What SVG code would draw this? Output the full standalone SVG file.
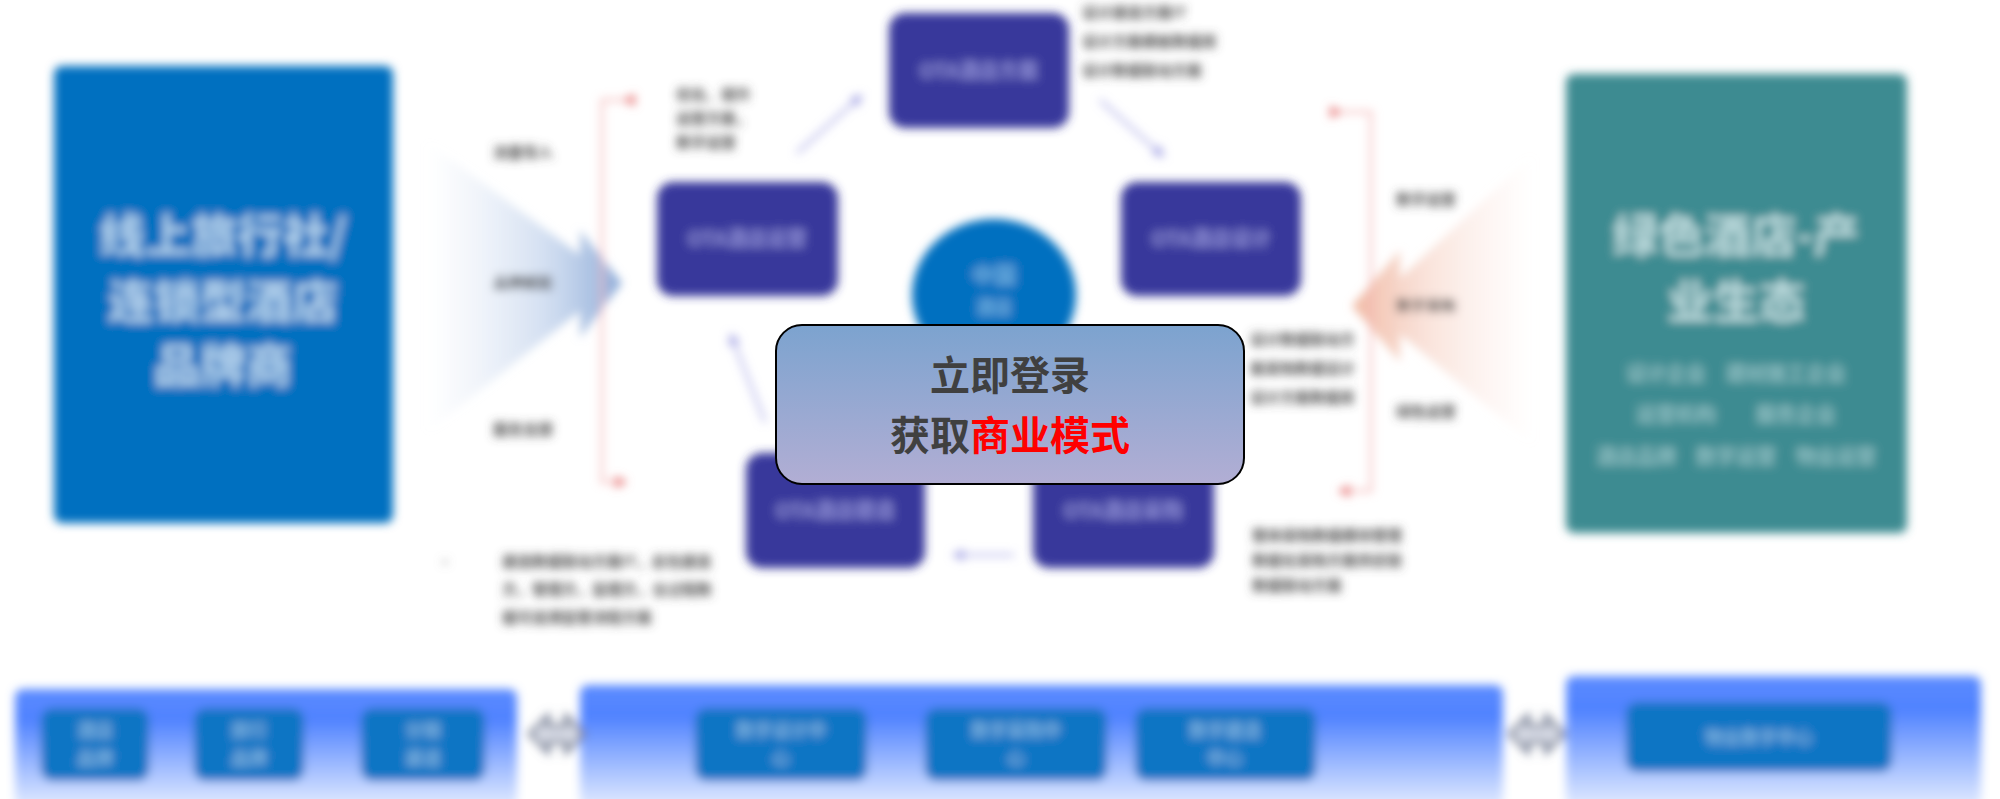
<svg xmlns="http://www.w3.org/2000/svg" width="2000" height="799" viewBox="0 0 2000 799">
<defs>
<style>
.cjk{font-family:"Noto Sans CJK SC","Liberation Sans",sans-serif}
.node{fill:#37389B}
.nodeText{fill:#8E8ED6;font-size:20px;font-weight:bold;text-anchor:middle}
.small{fill:#505050;font-size:15px;font-weight:bold}
.lbl{fill:#505050;font-size:15px;font-weight:bold;text-anchor:middle}
.btn{fill:#0E74C4}
.btnText{fill:#7FB4E0;font-size:18px;font-weight:bold;text-anchor:middle}
.conn{stroke:#A9A9E6;stroke-width:2.5;fill:none}
.brk{stroke:#F4B2B2;stroke-width:2.5;fill:none}
.ovlText{font-family:"Noto Sans CJK SC",sans-serif;font-size:40px;font-weight:bold;fill:#404040;text-anchor:middle}
</style>
<filter id="blur" x="-5%" y="-5%" width="110%" height="110%"><feGaussianBlur stdDeviation="5"/></filter>
<linearGradient id="fanL" x1="0" y1="0" x2="1" y2="0"><stop offset="0" stop-color="#DCE6F4" stop-opacity="0"/><stop offset="0.6" stop-color="#C2D3EC" stop-opacity="0.7"/><stop offset="1" stop-color="#8DABD8"/></linearGradient>
<linearGradient id="fanR" x1="1" y1="0" x2="0" y2="0"><stop offset="0" stop-color="#FBE6DE" stop-opacity="0"/><stop offset="0.6" stop-color="#F7D6CA" stop-opacity="0.7"/><stop offset="1" stop-color="#F0B9A3"/></linearGradient>
<linearGradient id="band" x1="0" y1="0" x2="0" y2="1"><stop offset="0" stop-color="#5C8BFF"/><stop offset="0.25" stop-color="#4F82FF"/><stop offset="1" stop-color="#E6EEFF"/></linearGradient>
<linearGradient id="ovl" x1="0" y1="0" x2="0" y2="1"><stop offset="0" stop-color="#7CA3CF"/><stop offset="1" stop-color="#B2AED4"/></linearGradient>
<marker id="arr" viewBox="0 0 10 10" refX="8" refY="5" markerWidth="5" markerHeight="5" orient="auto"><path d="M0,0 L10,5 L0,10 z" fill="#A9A9E6"/></marker>
<marker id="rarr" viewBox="0 0 10 10" refX="8" refY="5" markerWidth="5" markerHeight="5" orient="auto"><path d="M0,0 L10,5 L0,10 z" fill="#E98080"/></marker>
</defs>
<rect width="2000" height="799" fill="#FFFFFF"/>
<g filter="url(#blur)" class="cjk">
  <g id="left-box">
    <rect x="54" y="66" width="339" height="457" rx="8" fill="#0070C0"/>
    <text x="223" y="252" fill="#B7D5EE" font-size="46" font-weight="bold" text-anchor="middle">线上旅行社/</text>
    <text x="223" y="318" fill="#B7D5EE" font-size="46" font-weight="bold" text-anchor="middle">连锁型酒店</text>
    <text x="223" y="382" fill="#B7D5EE" font-size="46" font-weight="bold" text-anchor="middle">品牌商</text>
  </g>
  <g id="left-fan">
    <path d="M425,140 L580,255 L580,230 L622,283 L580,338 L580,311 L425,434 Z" fill="url(#fanL)"/>
  </g>
  <g id="left-labels">
    <text x="523" y="158" class="lbl">流量导入</text>
    <text x="523" y="288" class="lbl">品牌赋能</text>
    <text x="523" y="435" class="lbl">服务支撑</text>
  </g>
  <g id="right-box">
    <rect x="1566" y="74" width="341" height="459" rx="8" fill="#3D8B91"/>
    <text x="1736" y="252" fill="#BFDDDF" font-size="46" font-weight="bold" text-anchor="middle">绿色酒店-产</text>
    <text x="1736" y="318" fill="#BFDDDF" font-size="46" font-weight="bold" text-anchor="middle">业生态</text>
    <text x="1736" y="381" fill="#8FC0C3" font-size="20" font-weight="bold" text-anchor="middle">设计企业　建材施工企业</text>
    <text x="1736" y="422" fill="#8FC0C3" font-size="20" font-weight="bold" text-anchor="middle">运营机构　　服务企业</text>
    <text x="1736" y="464" fill="#8FC0C3" font-size="20" font-weight="bold" text-anchor="middle">酒店品牌　数字运营　物业运营</text>
  </g>
  <g id="right-fan">
    <path d="M1535,153 L1400,278 L1400,250 L1352,306 L1400,362 L1400,334 L1535,446 Z" fill="url(#fanR)"/>
  </g>
  <g id="right-labels">
    <text x="1426" y="205" class="lbl">数字运营</text>
    <text x="1426" y="311" class="lbl">数字采购</text>
    <text x="1426" y="417" class="lbl">绿色运营</text>
  </g>
  <g id="center-circle">
    <ellipse cx="994" cy="295" rx="82" ry="76" fill="#0070C0"/>
    <text x="994" y="283" fill="#6FB0E0" font-size="22" font-weight="bold" text-anchor="middle">中国</text>
    <text x="994" y="314" fill="#6FB0E0" font-size="18" font-weight="bold" text-anchor="middle">酒店</text>
  </g>
  <g id="node-top">
    <rect x="889" y="13" width="180" height="115" rx="16" class="node"/>
    <text x="979" y="78" class="nodeText">OTA酒店方案</text>
  </g>
  <g id="node-left">
    <rect x="657" y="182" width="181" height="114" rx="16" class="node"/>
    <text x="747" y="246" class="nodeText">OTA酒店运营</text>
  </g>
  <g id="node-right">
    <rect x="1121" y="182" width="180" height="114" rx="16" class="node"/>
    <text x="1211" y="246" class="nodeText">OTA酒店设计</text>
  </g>
  <g id="node-bottom-left">
    <rect x="746" y="453" width="179" height="115" rx="16" class="node"/>
    <text x="835" y="518" class="nodeText">OTA酒店建造</text>
  </g>
  <g id="node-bottom-right">
    <rect x="1033" y="453" width="181" height="115" rx="16" class="node"/>
    <text x="1123" y="518" class="nodeText">OTA酒店采购</text>
  </g>
  <g id="connectors">
    <path class="conn" d="M797,153 L861,96" marker-end="url(#arr)"/>
    <path class="conn" d="M1100,100 L1163,156" marker-end="url(#arr)"/>
    <path class="conn" d="M1014,555 L954,555" marker-end="url(#arr)"/>
    <path class="conn" d="M765,422 L731,335" marker-end="url(#arr)"/>
    <path class="brk" d="M625,100 L602,100 L602,482 L625,482" marker-start="url(#rarr)" marker-end="url(#rarr)"/>
    <path class="brk" d="M1340,112 L1371,112 L1371,491 L1340,491" marker-start="url(#rarr)" marker-end="url(#rarr)"/>
  </g>
  <g id="notes">
    <text class="small"><tspan x="1082" y="18">设计建造方案IT</tspan><tspan x="1082" y="47">设计方案模板数据库</tspan><tspan x="1082" y="76">设计数据联动方案</tspan></text>
    <text class="small"><tspan x="676" y="100">优化、提升</tspan><tspan x="676" y="124">运营方案，</tspan><tspan x="676" y="148">数字运营</tspan></text>
    <text class="small"><tspan x="1250" y="345">设计数据联动方</tspan><tspan x="1250" y="374">案采购数据设计</tspan><tspan x="1250" y="403">设计方案数据库</tspan></text>
    <text class="small"><tspan x="502" y="567">建造数据联动方案IT，总包建造</tspan><tspan x="502" y="595">方，管理方，监理方，全过程数</tspan><tspan x="502" y="623">据可追溯监管流程方案</tspan></text>
    <text class="small"><tspan x="1252" y="541">整体采购数据模块管理</tspan><tspan x="1252" y="566">数据化采购方案供应链</tspan><tspan x="1252" y="591">数据联动方案</tspan></text>
    <circle cx="445" cy="562" r="2" fill="#888"/>
  </g>
  <g id="band-left">
    <rect x="15" y="689" width="502" height="120" rx="8" fill="url(#band)"/>
    <rect x="41" y="708" width="108" height="73" rx="12" class="btn"/>
    <text class="btnText"><tspan x="95" y="737">酒店</tspan><tspan x="95" y="765">品牌</tspan></text>
    <rect x="194" y="708" width="110" height="73" rx="12" class="btn"/>
    <text class="btnText"><tspan x="249" y="737">旅行</tspan><tspan x="249" y="765">品牌</tspan></text>
    <rect x="361" y="708" width="124" height="73" rx="12" class="btn"/>
    <text class="btnText"><tspan x="423" y="737">分销</tspan><tspan x="423" y="765">渠道</tspan></text>
  </g>
  <g id="band-middle">
    <rect x="580" y="685" width="923" height="124" rx="8" fill="url(#band)"/>
    <rect x="695" y="708" width="172" height="73" rx="12" class="btn"/>
    <text class="btnText"><tspan x="781" y="737">数字设计中</tspan><tspan x="781" y="765">心</tspan></text>
    <rect x="925" y="708" width="182" height="73" rx="12" class="btn"/>
    <text class="btnText"><tspan x="1016" y="737">数字采购中</tspan><tspan x="1016" y="765">心</tspan></text>
    <rect x="1135" y="708" width="181" height="73" rx="12" class="btn"/>
    <text class="btnText"><tspan x="1225" y="737">数字建造</tspan><tspan x="1225" y="765">中心</tspan></text>
  </g>
  <g id="band-right">
    <rect x="1566" y="676" width="415" height="133" rx="8" fill="url(#band)"/>
    <rect x="1626" y="702" width="266" height="70" rx="12" class="btn"/>
    <text x="1759" y="744" class="btnText">物业数字中心</text>
  </g>
  <g id="dbl-arrows">
    <path d="M530,734 L548,716 L548,726 L566,726 L566,716 L584,734 L566,752 L566,742 L548,742 L548,752 Z" fill="#D8DCE6" stroke="#6E7890" stroke-width="4"/>
    <path d="M1510,734 L1528,716 L1528,726 L1546,726 L1546,716 L1564,734 L1546,752 L1546,742 L1528,742 L1528,752 Z" fill="#D8DCE6" stroke="#6E7890" stroke-width="4"/>
  </g>
</g>
<g id="login-overlay">
  <rect x="776" y="325" width="468" height="159" rx="26" fill="url(#ovl)" stroke="#000000" stroke-width="2"/>
  <text x="1010" y="390" class="ovlText">立即登录</text>
  <text x="1010" y="450" class="ovlText">获取<tspan fill="#FF0000">商业模式</tspan></text>
</g>
</svg>
